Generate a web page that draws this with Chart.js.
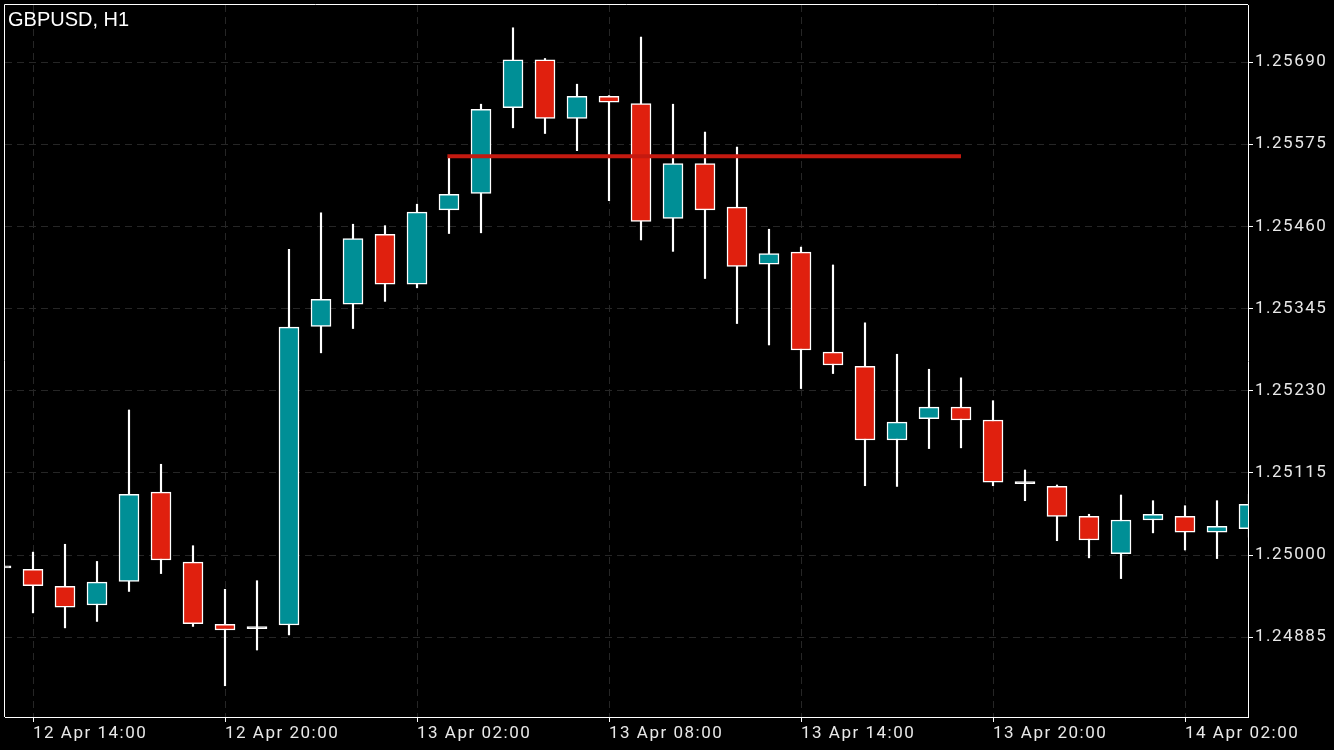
<!DOCTYPE html>
<html>
<head>
<meta charset="utf-8">
<title>GBPUSD, H1</title>
<script src="https://cdn.jsdelivr.net/npm/chart.js@4.4.1/dist/chart.umd.min.js"></script>
<style>
  html, body { margin: 0; padding: 0; background: #000; }
  #wrap { position: relative; width: 1334px; height: 750px; }
  #title {
    position: absolute; left: 8px; top: 7px;
    color: #fff; font: 20px 'Liberation Sans', Arial, sans-serif; line-height: 24px;
    pointer-events: none;
  }
</style>
</head>
<body>
<div id="wrap">
  <canvas id="chart"></canvas>
  <div id="title">GBPUSD, H1</div>
</div>
<script>
// Hour index: 0 = 12 Apr 13:00, one candle per hour.
const hours = [0, 1, 2, 3, 4, 5, 6, 7, 8, 9, 10, 11, 12, 13, 14, 15, 16, 17, 18, 19,
  20, 21, 22, 23, 24, 25, 26, 27, 28, 29, 30, 31, 32, 33, 34, 35, 36, 37, 38, 39];

const opens = [1.24982, 1.24980, 1.24956, 1.24930, 1.24963, 1.25088, 1.24990, 1.24903, 1.24897, 1.24902,
  1.25320, 1.25351, 1.25449, 1.25379, 1.25483, 1.25506, 1.25626, 1.25693, 1.25611, 1.25642,
  1.25632, 1.25471, 1.25548, 1.25487, 1.25407, 1.25424, 1.25284, 1.25264, 1.25161, 1.25191,
  1.25207, 1.25189, 1.25100, 1.25096, 1.25054, 1.25002, 1.25049, 1.25054, 1.25032, 1.25037];
const highs = [1.24995, 1.25004, 1.25015, 1.24991, 1.25203, 1.25127, 1.25013, 1.24952, 1.24964, 1.25428,
  1.25479, 1.25463, 1.25461, 1.25491, 1.25557, 1.25631, 1.25738, 1.25695, 1.25659, 1.25643,
  1.25725, 1.25631, 1.25592, 1.25571, 1.25456, 1.25431, 1.25406, 1.25325, 1.25281, 1.25260,
  1.25248, 1.25216, 1.25119, 1.25098, 1.25057, 1.25084, 1.25076, 1.25069, 1.25076, 1.25085];
const lows = [1.24970, 1.24919, 1.24898, 1.24907, 1.24949, 1.24974, 1.24900, 1.24817, 1.24867, 1.24888,
  1.25283, 1.25317, 1.25355, 1.25374, 1.25450, 1.25451, 1.25598, 1.25590, 1.25566, 1.25496,
  1.25441, 1.25425, 1.25387, 1.25324, 1.25294, 1.25233, 1.25254, 1.25097, 1.25096, 1.25149,
  1.25150, 1.25097, 1.25076, 1.25020, 1.24996, 1.24967, 1.25031, 1.25007, 1.24995, 1.25025];
const closes = [1.24982, 1.24957, 1.24927, 1.24962, 1.25085, 1.24993, 1.24904, 1.24895, 1.24897, 1.25319,
  1.25358, 1.25443, 1.25379, 1.25480, 1.25505, 1.25624, 1.25693, 1.25611, 1.25642, 1.25634,
  1.25467, 1.25548, 1.25483, 1.25404, 1.25422, 1.25287, 1.25266, 1.25161, 1.25186, 1.25207,
  1.25189, 1.25102, 1.25100, 1.25054, 1.25021, 1.25049, 1.25057, 1.25032, 1.25040, 1.25071];

// Horizontal level drawn across the top of the move.
const levelPrice = 1.25558;
const levelFrom = 13.95;
const levelTo = 30;

const yTicks = [1.24885, 1.25000, 1.25115, 1.25230, 1.25345, 1.25460, 1.25575, 1.25690];
const xTicks = [1, 7, 13, 19, 25, 31, 37];
const xTickLabels = ['12 Apr 14:00', '12 Apr 20:00', '13 Apr 02:00', '13 Apr 08:00',
  '13 Apr 14:00', '13 Apr 20:00', '14 Apr 02:00'];

const UP = '#008f96';
const DOWN = '#e0200e';
const bodyColors = hours.map((h, i) =>
  closes[i] > opens[i] ? UP : closes[i] < opens[i] ? DOWN : '#ffffff');

// Top and left sides of the plot frame (axes draw the right and bottom ones).
const framePlugin = {
  id: 'frame',
  beforeDraw(chart) {
    // wider glyph spacing for the axis labels
    chart.ctx.letterSpacing = '1.5px';
  },
  beforeDatasetsDraw(chart) {
    const { ctx, chartArea: a } = chart;
    ctx.save();
    ctx.strokeStyle = '#ffffff';
    ctx.lineWidth = 1;
    ctx.beginPath();
    ctx.moveTo(a.left - 0.5, a.bottom);
    ctx.lineTo(a.left - 0.5, a.top - 0.5);
    ctx.lineTo(a.right, a.top - 0.5);
    ctx.stroke();
    ctx.restore();
  },
};

const gridCommon = {
  color: '#262626',
  lineWidth: 1,
  tickColor: '#ffffff',
  tickLength: 5,
  drawTicks: true,
  offset: false,
};
const borderCommon = { display: true, color: '#ffffff', width: 1, dash: [7, 5] };

new Chart(document.getElementById('chart'), {
  type: 'bar',
  data: {
    datasets: [
      {
        type: 'line',
        label: 'level',
        data: [{ x: levelFrom, y: levelPrice }, { x: levelTo, y: levelPrice }],
        borderColor: '#c41a10',
        borderWidth: 4,
        pointRadius: 0,
        order: 0,
        clip: 0,
      },
      {
        label: 'body',
        data: hours.map((h, i) => ({ x: h, y: [opens[i], closes[i]] })),
        backgroundColor: bodyColors,
        borderColor: '#ffffff',
        borderWidth: 1.5,
        borderSkipped: false,
        barThickness: 20,
        minBarLength: 2,
        grouped: false,
        order: 1,
        clip: 0,
      },
      {
        label: 'wick',
        data: hours.map((h, i) => ({ x: h, y: [lows[i], highs[i]] })),
        backgroundColor: '#ffffff',
        borderWidth: 0,
        barThickness: 1.5,
        grouped: false,
        order: 2,
        clip: 0,
      },
    ],
  },
  options: {
    responsive: true,
    maintainAspectRatio: false,
    animation: false,
    events: [],
    layout: { padding: { left: 5, top: 5, right: 0, bottom: 0 } },
    plugins: { legend: { display: false }, tooltip: { enabled: false } },
    scales: {
      x: {
        type: 'linear',
        position: 'bottom',
        min: 0.125,
        max: 38.96875,
        offset: false,
        grid: gridCommon,
        border: borderCommon,
        ticks: {
          align: 'start',
          maxRotation: 0,
          autoSkip: false,
          padding: 2,
          color: '#e8e8e8',
          font: { family: 'Roboto', size: 17 },
          callback: (v) => xTickLabels[xTicks.indexOf(v)] || '',
        },
        afterBuildTicks: (s) => { s.ticks = xTicks.map((v) => ({ value: v })); },
        afterFit: (s) => { s.height = 33; s.paddingLeft = 0; s.paddingRight = 0; },
      },
      y: {
        type: 'linear',
        position: 'right',
        min: 1.2477324,
        max: 1.2576988,
        grid: gridCommon,
        border: borderCommon,
        ticks: {
          padding: 2,
          color: '#e8e8e8',
          font: { family: 'Roboto', size: 17 },
          callback: (v) => v.toFixed(5),
        },
        afterBuildTicks: (s) => { s.ticks = yTicks.map((v) => ({ value: v })); },
        afterFit: (s) => { s.width = 86; s.paddingTop = 0; s.paddingBottom = 0; },
      },
    },
  },
  plugins: [framePlugin],
});
</script>
</body>
</html>
